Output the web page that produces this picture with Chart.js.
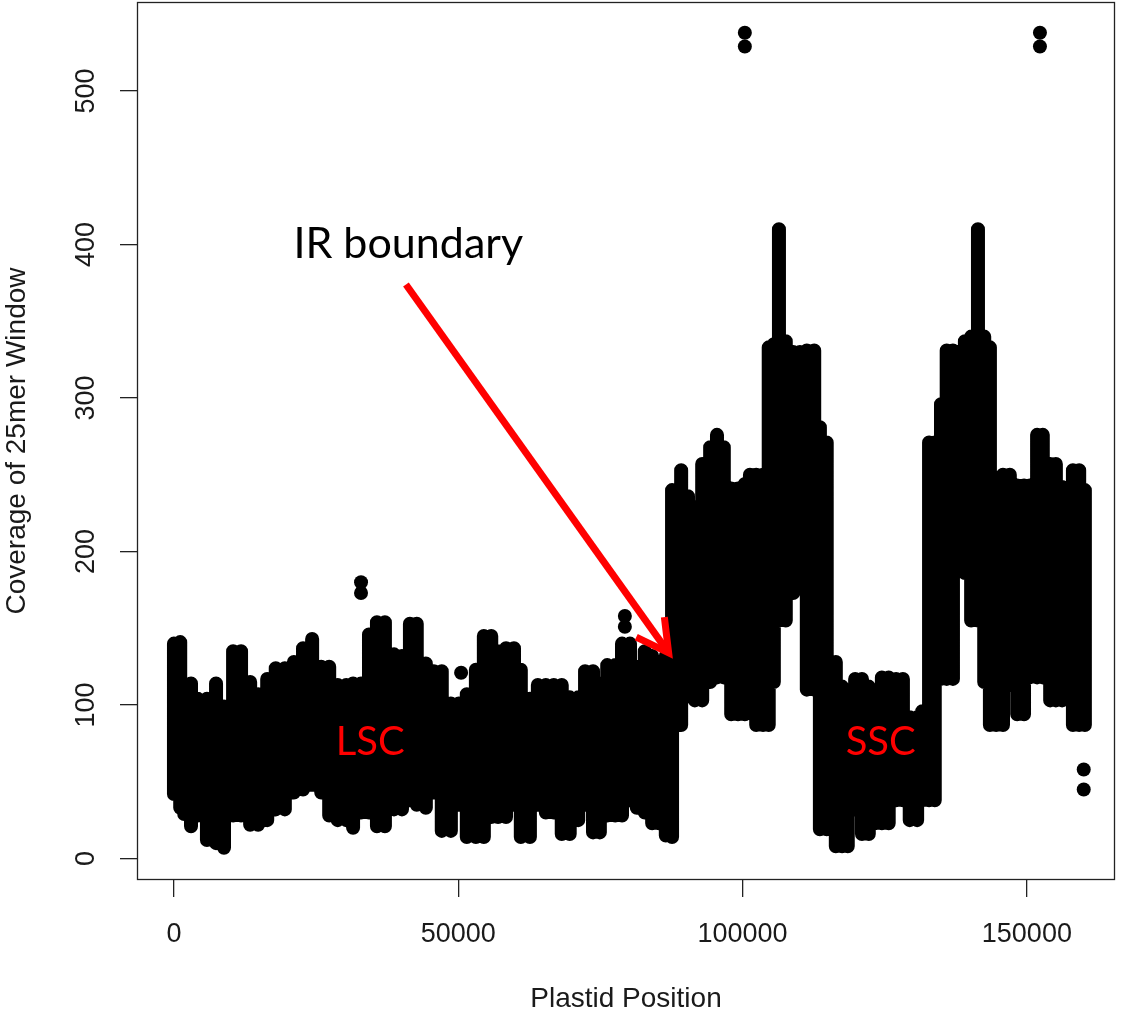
<!DOCTYPE html>
<html>
<head>
<meta charset="utf-8">
<script src="https://cdn.jsdelivr.net/npm/chart.js@4.4.1/dist/chart.umd.min.js"></script>
<style>
html, body { margin: 0; padding: 0; background: #fff; }
</style>
</head>
<body>
<canvas id="cov" width="1122" height="1016"></canvas>
<script>
// plastid position (bp) of each column of the point cloud, with its lowest / highest coverage
const posBp = [0, 1100, 1800, 3000, 4200, 5800, 7400, 8800, 10400, 11800, 13400, 14800, 16400, 17900, 19500,
  21100, 22700, 24300, 25900, 27300, 28800, 30300, 31500, 32900, 34300, 35700, 37100, 38700, 40100, 41500,
  42700, 44300, 45700, 47100, 48700, 50100, 51500, 53100, 54500, 55800, 57000, 58400, 59800, 61000, 62600,
  64000, 65400, 66800, 68200, 69600, 71100, 72300, 73700, 74900, 76200, 77600, 78800, 80200, 81400, 82800,
  84100, 85300, 86500, 87600, 89200, 90400, 91600, 92900, 94300, 95500, 96700, 98000, 99200, 100400, 101300,
  102400, 103600, 104600, 105500, 106400, 107600, 108900, 110100, 111300, 112600, 113600, 114800, 116400, 117500,
  118500, 119800, 121000, 122200, 123300, 124500, 125700, 127000, 128200, 129400, 130700, 131600, 132800, 133800,
  134900, 135900, 137000, 138100, 139100, 140200, 141400, 142500, 143500, 144600, 145800, 147000, 148300, 149500,
  150500, 151800, 152800, 154100, 155100, 156200, 156900, 158100, 159200, 160200];
const covHigh = [140, 141, 114, 114, 104, 104, 114, 99, 135, 135, 115, 107, 117, 124, 124,
  128, 137, 143, 125, 125, 113, 113, 114, 114, 146, 154, 154, 133, 132, 153,
  153, 127, 122, 122, 101, 101, 107, 123, 145, 145, 135, 137, 137, 123, 104,
  113, 113, 113, 113, 105, 105, 122, 122, 114, 126, 126, 140, 140, 125, 135,
  132, 128, 132, 240, 253, 236, 229, 257, 268, 276, 268, 241, 241, 244, 250,
  250, 250, 333, 335, 410, 337, 330, 330, 331, 331, 281, 271, 128, 112,
  96, 117, 117, 112, 101, 118, 118, 117, 117, 92, 92, 96, 271, 271,
  296, 331, 331, 330, 337, 340, 410, 340, 333, 244, 250, 250, 243, 243,
  243, 276, 276, 257, 257, 242, 229, 253, 253, 240];
const covLow = [42, 33, 29, 21, 28, 12, 10, 7, 28, 28, 22, 22, 25, 32, 32,
  43, 45, 48, 43, 28, 25, 25, 20, 30, 30, 21, 21, 32, 32, 38,
  35, 33, 43, 18, 18, 35, 14, 14, 14, 27, 27, 27, 35, 14, 14,
  35, 30, 30, 16, 16, 25, 35, 17, 17, 28, 28, 28, 38, 33, 30,
  23, 23, 15, 14, 87, 115, 103, 103, 115, 118, 118, 94, 94, 94, 113,
  87, 87, 87, 115, 155, 155, 173, 198, 110, 110, 19, 19, 8, 8,
  8, 32, 16, 16, 23, 23, 23, 38, 38, 25, 25, 38, 38, 38,
  117, 117, 117, 198, 186, 155, 155, 115, 87, 87, 87, 113, 94, 94,
  118, 118, 118, 103, 103, 103, 126, 87, 87, 87];

// isolated points away from the main cloud
const outlierBp = [32900, 32900, 50500, 79300, 79300, 100400, 100400, 152300, 152300, 160000, 160000];
const outlierCov = [180, 173, 121, 158, 151, 538, 529, 538, 529, 58, 45];

const xTickVals = [0, 50000, 100000, 150000];
const yTickVals = [0, 100, 200, 300, 400, 500];

const rFont = '"Liberation Sans", Arial, sans-serif';
const noteFont = 'Lato, "Open Sans", sans-serif';

// each column: low -> high, then a gap so the columns stay separate strokes
const massData = posBp.flatMap((x, i) => [{x: x, y: covLow[i]}, {x: x, y: covHigh[i]}, {x: x, y: null}]);
const outData = outlierBp.map((x, i) => ({x: x, y: outlierCov[i]}));

const decor = {
    id: 'decor',
    afterDatasetsDraw(chart) {
        const ctx = chart.ctx, a = chart.chartArea;
        const xs = chart.scales.x, ys = chart.scales.y;
        ctx.save();
        ctx.strokeStyle = '#222';
        ctx.lineWidth = 1.3;
        ctx.strokeRect(a.left + 0.5, a.top + 0.5, a.right - a.left - 1, a.bottom - a.top - 1);

        // rotated y tick labels, R style
        ctx.fillStyle = '#1a1a1a';
        ctx.font = '27px ' + rFont;
        ctx.textAlign = 'center';
        ctx.textBaseline = 'middle';
        yTickVals.forEach(v => {
            ctx.save();
            ctx.translate(a.left - 50, ys.getPixelForValue(v));
            ctx.rotate(-Math.PI / 2);
            ctx.fillText(String(v), 0, 0);
            ctx.restore();
        });

        // annotations
        ctx.fillStyle = '#000';
        ctx.font = '43px ' + noteFont;
        ctx.fillText('IR boundary', xs.getPixelForValue(41200), ys.getPixelForValue(400));
        ctx.fillStyle = '#ff0000';
        ctx.font = '40px ' + noteFont;
        ctx.fillText('LSC', xs.getPixelForValue(34500), ys.getPixelForValue(76));
        ctx.fillText('SSC', xs.getPixelForValue(124300), ys.getPixelForValue(76));

        const x0 = xs.getPixelForValue(40800), y0 = ys.getPixelForValue(374);
        const x1 = xs.getPixelForValue(87000), y1 = ys.getPixelForValue(134);
        const ang = Math.atan2(y1 - y0, x1 - x0);
        ctx.strokeStyle = '#ff0000';
        ctx.lineWidth = 7;
        ctx.lineCap = 'butt';
        ctx.beginPath();
        ctx.moveTo(x0, y0);
        ctx.lineTo(x1 - 3 * Math.cos(ang), y1 - 3 * Math.sin(ang));
        ctx.stroke();
        ctx.lineJoin = 'miter';
        ctx.beginPath();
        ctx.moveTo(x1 - 36 * Math.cos(ang - 0.5), y1 - 36 * Math.sin(ang - 0.5));
        ctx.lineTo(x1, y1);
        ctx.lineTo(x1 - 36 * Math.cos(ang + 0.5), y1 - 36 * Math.sin(ang + 0.5));
        ctx.stroke();
        ctx.restore();
    }
};

new Chart(document.getElementById('cov'), {
    type: 'scatter',
    data: {
        datasets: [
            { data: massData, showLine: true, spanGaps: false, borderColor: '#000', borderWidth: 14,
              borderCapStyle: 'round', borderJoinStyle: 'round', pointRadius: 0, pointHoverRadius: 0 },
            { data: outData, pointRadius: 7, pointBackgroundColor: '#000', pointBorderWidth: 0, pointHoverRadius: 7 }
        ]
    },
    options: {
        responsive: false, animation: false, events: [],
        layout: { autoPadding: false, padding: { top: 2, right: 7, left: 0, bottom: 0 } },
        plugins: { legend: { display: false }, tooltip: { enabled: false } },
        scales: {
            x: {
                type: 'linear', min: -6500, max: 165500,
                afterBuildTicks: s => { s.ticks = xTickVals.map(v => ({value: v})); },
                afterFit: s => { s.height = 136; },
                border: { display: false },
                grid: { drawOnChartArea: false, drawTicks: true, tickLength: 17, tickColor: '#222', lineWidth: 1.3 },
                ticks: { color: '#1a1a1a', font: { family: rFont, size: 27 }, padding: 21, maxRotation: 0, autoSkip: false,
                         callback: v => String(v) },
                title: { display: true, text: 'Plastid Position', color: '#1a1a1a', font: { family: rFont, size: 28 },
                         padding: { top: 0, bottom: 0 } }
            },
            y: {
                type: 'linear', min: -14, max: 558,
                afterBuildTicks: s => { s.ticks = yTickVals.map(v => ({value: v})); },
                afterFit: s => { s.width = 137; },
                border: { display: false },
                grid: { drawOnChartArea: false, drawTicks: true, tickLength: 17, tickColor: '#222', lineWidth: 1.3 },
                ticks: { display: false },
                title: { display: true, text: 'Coverage of 25mer Window', color: '#1a1a1a', font: { family: rFont, size: 28 },
                         padding: { top: 0, bottom: 0 } }
            }
        }
    },
    plugins: [decor]
});
</script>
</body>
</html>
